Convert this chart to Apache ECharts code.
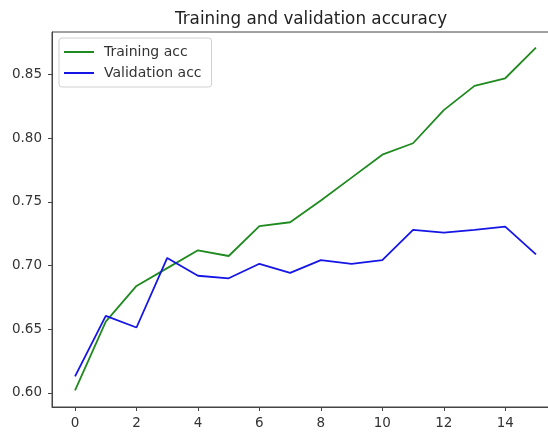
<!DOCTYPE html>
<html>
<head>
<meta charset="utf-8">
<script src="https://cdn.jsdelivr.net/npm/echarts@6/dist/echarts.min.js"></script>
<style>
  html, body { margin: 0; padding: 0; background: #fff; overflow: hidden; }
  /* plot box runs past the right edge, like the cropped original */
  #chart { width: 560px; height: 435px; }
</style>
</head>
<body>
<div id="chart"></div>
<script>
// epochs on the x axis
const epochs = [0, 1, 2, 3, 4, 5, 6, 7, 8, 9, 10, 11, 12, 13, 14, 15];
const trainingAcc = [0.602, 0.656, 0.684, 0.698, 0.712, 0.7075, 0.731, 0.734, 0.751, 0.769, 0.787, 0.796, 0.822, 0.841, 0.847, 0.871];
const validationAcc = [0.613, 0.6605, 0.6514, 0.706, 0.692, 0.690, 0.7014, 0.6943, 0.7043, 0.7014, 0.7043, 0.728, 0.7258, 0.728, 0.7305, 0.7088];
const xTicks = [0, 2, 4, 6, 8, 10, 12, 14];
const yTicks = [0.60, 0.65, 0.70, 0.75, 0.80, 0.85];

const font = 'DejaVu Sans';
const textColor = '#333';
const axisColor = '#444';

const pairs = (ys) => epochs.map((x, i) => [x, ys[i]]);

const chart = echarts.init(document.getElementById('chart'));

const option = {
    animation: false,
    title: {
        text: 'Training and validation accuracy',
        left: 306,
        textAlign: 'center',
        top: 6,
        textStyle: { fontFamily: font, fontSize: 16.8, fontWeight: 'normal', color: '#222' }
    },
    legend: {
        orient: 'vertical',
        left: 59,
        top: 38,
        padding: [7, 10, 7, 5],
        itemGap: 7,
        itemWidth: 30,
        itemHeight: 2,
        icon: 'rect',
        backgroundColor: 'rgba(255,255,255,0.85)',
        borderColor: '#d0d0d0',
        borderWidth: 1,
        borderRadius: 3,
        textStyle: { fontFamily: font, fontSize: 14, color: textColor, padding: [0, 0, 0, 5] },
        data: ['Training acc', 'Validation acc']
    },
    grid: {
        left: 52,
        right: 1,
        top: 32,
        bottom: 28,
        show: true,
        borderColor: axisColor,
        borderWidth: 1,
        backgroundColor: 'transparent'
    },
    xAxis: {
        type: 'value',
        min: -0.75,
        max: 15.75,
        splitLine: { show: false },
        axisLine: { onZero: false, lineStyle: { color: axisColor, width: 1 } },
        axisTick: { show: true, length: 4, lineStyle: { color: axisColor }, customValues: xTicks },
        axisLabel: { fontFamily: font, fontSize: 13.5, color: textColor, margin: 9, customValues: xTicks }
    },
    yAxis: {
        type: 'value',
        min: 0.589,
        max: 0.8833,
        splitLine: { show: false },
        axisLine: { show: true, onZero: false, lineStyle: { color: axisColor, width: 1 } },
        axisTick: { show: true, length: 4, lineStyle: { color: axisColor }, customValues: yTicks },
        axisLabel: {
            fontFamily: font, fontSize: 13.5, color: textColor, margin: 10,
            customValues: yTicks,
            formatter: (v) => v.toFixed(2)
        }
    },
    series: [
        {
            name: 'Training acc',
            type: 'line',
            data: pairs(trainingAcc),
            showSymbol: false,
            color: '#1f8a1f',
            lineStyle: { color: '#1f8a1f', width: 1.8 }
        },
        {
            name: 'Validation acc',
            type: 'line',
            data: pairs(validationAcc),
            showSymbol: false,
            color: '#1515e6',
            lineStyle: { color: '#1515e6', width: 1.8 }
        }
    ]
};

chart.setOption(option);
</script>
</body>
</html>
